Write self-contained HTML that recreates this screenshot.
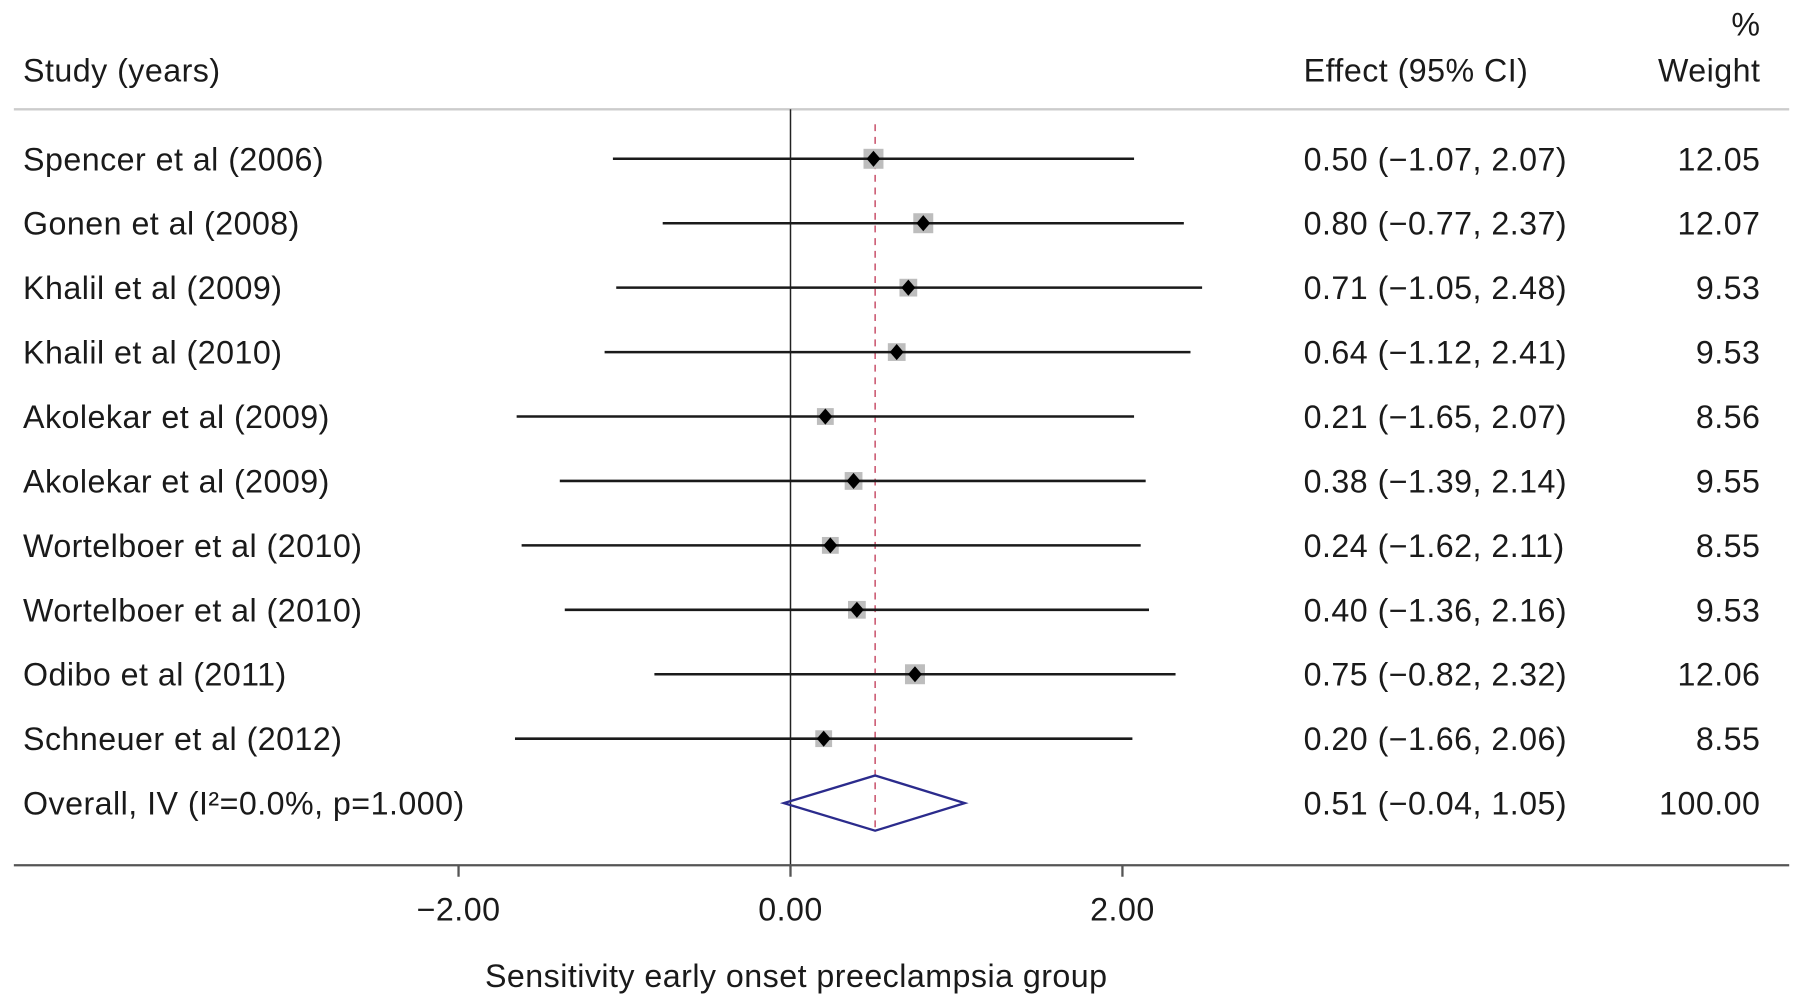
<!DOCTYPE html>
<html><head><meta charset="utf-8"><style>
html,body{margin:0;padding:0;background:#fff}
svg{display:block}
text{font-family:"Liberation Sans",sans-serif;fill:#1a1a1a;letter-spacing:0.4px}
</style></head><body>
<svg id="chart" width="1795" height="1004" viewBox="0 0 1560 872.6" xmlns="http://www.w3.org/2000/svg">
<text x="20" y="71" font-size="28">Study (years)</text>
<text x="1133" y="71" font-size="28">Effect (95% CI)</text>
<text x="1530" y="31" font-size="28" text-anchor="end">%</text>
<text x="1530" y="71" font-size="28" text-anchor="end">Weight</text>
<line x1="12" x2="1555" y1="95" y2="95" stroke="#ccc" stroke-width="2"/>
<g id="plot"></g>
</svg>
<script>
const studies=["Spencer et al (2006)","Gonen et al (2008)","Khalil et al (2009)","Khalil et al (2010)","Akolekar et al (2009)","Akolekar et al (2009)","Wortelboer et al (2010)","Wortelboer et al (2010)","Odibo et al (2011)","Schneuer et al (2012)"];
const effects=[0.50,0.80,0.71,0.64,0.21,0.38,0.24,0.40,0.75,0.20];
const lower=[-1.07,-0.77,-1.05,-1.12,-1.65,-1.39,-1.62,-1.36,-0.82,-1.66];
const upper=[2.07,2.37,2.48,2.41,2.07,2.14,2.11,2.16,2.32,2.06];
const weights=[12.05,12.07,9.53,9.53,8.56,9.55,8.55,9.53,12.06,8.55];
const overall=[0.51,-0.04,1.05];
const overallLabel="Overall, IV (I\u00B2=0.0%, p=1.000)";
const ticks=[-2,0,2];
const ns="http://www.w3.org/2000/svg";
const g=document.getElementById('plot');
const X=v=>687+v*144.25;
const Y=i=>138+i*56;
function mk(t,a,txt){const e=document.createElementNS(ns,t);for(const k in a)e.setAttribute(k,a[k]);if(txt!==undefined)e.textContent=txt;g.appendChild(e);return e;}
const bottom=752;
let e;
e=mk('line',{x1:X(0),x2:X(0),y1:95,y2:bottom,stroke:'#222','stroke-width':1.3});


e=mk('line',{x1:X(overall[0]),x2:X(overall[0]),y1:108,y2:722,stroke:'#c8506a','stroke-width':1.3,'stroke-dasharray':'6,5'});


const fmt=v=>(v<0?'\u2212':'')+Math.abs(v).toFixed(2);
studies.forEach((s,i)=>{
 const y=Y(i);
 let t=mk('text',{x:20,y:y+10,'font-size':28},s);
 
 
 const sz=Math.sqrt(weights[i])*5;
 let r=mk('rect',{x:X(effects[i])-sz/2,y:y-sz/2,width:sz,height:sz,fill:'#bdbdbd'});
 
 
 let l=mk('line',{x1:X(lower[i]),x2:X(upper[i]),y1:y,y2:y,stroke:'#1a1a1a','stroke-width':2.2});
 
 
 const cx=X(effects[i]);
 let d=mk('polygon',{points:`${cx},${y-7} ${cx+6},${y} ${cx},${y+7} ${cx-6},${y}`,fill:'#000'});
 
 
 t=mk('text',{x:1133,y:y+10,'font-size':28},`${effects[i].toFixed(2)} (${fmt(lower[i])}, ${fmt(upper[i])})`);
 
 
 t=mk('text',{x:1530,y:y+10,'font-size':28,'text-anchor':'end'},weights[i].toFixed(2));
 
 
});
const oy=Y(studies.length);
let t=mk('text',{x:20,y:oy+10,'font-size':28},overallLabel);


let dm=mk('polygon',{points:`${X(overall[1])},${oy} ${X(overall[0])},${oy-24} ${X(overall[2])},${oy} ${X(overall[0])},${oy+24}`,fill:'none',stroke:'#2b2b8c','stroke-width':2});


t=mk('text',{x:1133,y:oy+10,'font-size':28},`${overall[0].toFixed(2)} (${fmt(overall[1])}, ${fmt(overall[2])})`);


t=mk('text',{x:1530,y:oy+10,'font-size':28,'text-anchor':'end'},'100.00');


let ax=mk('line',{x1:12,x2:1555,y1:bottom,y2:bottom,stroke:'#555','stroke-width':2});


ticks.forEach(v=>{
 let k=mk('line',{x1:X(v),x2:X(v),y1:bottom,y2:bottom+10,stroke:'#555','stroke-width':2});
 
 
 let tl=mk('text',{x:X(v),y:800,'font-size':28,'text-anchor':'middle'},fmt(v));
 
 
});
t=mk('text',{x:692,y:858,'font-size':28,'text-anchor':'middle'},'Sensitivity early onset preeclampsia group');


</script>
</body></html>
